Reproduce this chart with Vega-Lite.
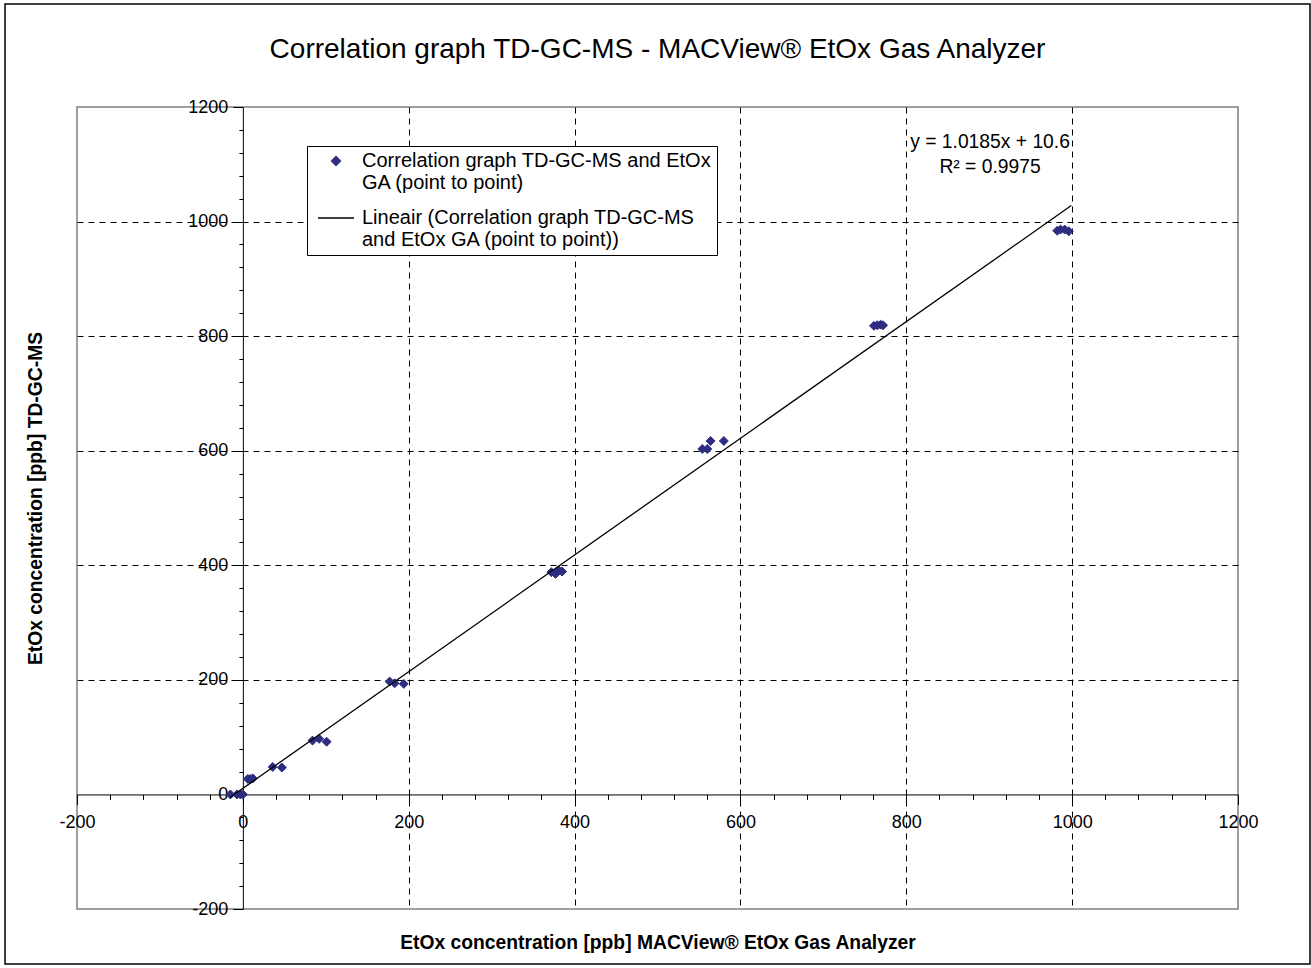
{
  "$schema": "https://vega.github.io/schema/vega-lite/v6.json",
  "width": 1161,
  "height": 802,
  "autosize": {"type": "none"},
  "padding": {"left": 77, "top": 107, "right": 73, "bottom": 59},
  "background": "white",
  "config": {
    "font": "Liberation Sans",
    "view": {"stroke": "#808080", "strokeWidth": 1.5},
    "axis": {"labelFont": "Liberation Sans", "titleFont": "Liberation Sans", "labelColor": "black", "titleColor": "black"}
  },
  "title": {
    "text": "Correlation graph TD-GC-MS - MACView® EtOx Gas Analyzer",
    "fontSize": 28,
    "fontWeight": "normal",
    "font": "Liberation Sans",
    "color": "black",
    "anchor": "middle",
    "frame": "group",
    "baseline": "alphabetic",
    "offset": -82.5
  },
  "datasets": {
    "points": [
      {"x": -15, "y": 0, "series": "Correlation graph TD-GC-MS and EtOx GA (point to point)"},
      {"x": -7, "y": 0, "series": "Correlation graph TD-GC-MS and EtOx GA (point to point)"},
      {"x": -3, "y": 0, "series": "Correlation graph TD-GC-MS and EtOx GA (point to point)"},
      {"x": 0, "y": 0, "series": "Correlation graph TD-GC-MS and EtOx GA (point to point)"},
      {"x": 6, "y": 27, "series": "Correlation graph TD-GC-MS and EtOx GA (point to point)"},
      {"x": 9, "y": 27, "series": "Correlation graph TD-GC-MS and EtOx GA (point to point)"},
      {"x": 12, "y": 28, "series": "Correlation graph TD-GC-MS and EtOx GA (point to point)"},
      {"x": 36, "y": 48, "series": "Correlation graph TD-GC-MS and EtOx GA (point to point)"},
      {"x": 47, "y": 47, "series": "Correlation graph TD-GC-MS and EtOx GA (point to point)"},
      {"x": 84, "y": 94, "series": "Correlation graph TD-GC-MS and EtOx GA (point to point)"},
      {"x": 92, "y": 97, "series": "Correlation graph TD-GC-MS and EtOx GA (point to point)"},
      {"x": 101, "y": 92, "series": "Correlation graph TD-GC-MS and EtOx GA (point to point)"},
      {"x": 177, "y": 197, "series": "Correlation graph TD-GC-MS and EtOx GA (point to point)"},
      {"x": 183, "y": 194, "series": "Correlation graph TD-GC-MS and EtOx GA (point to point)"},
      {"x": 194, "y": 193, "series": "Correlation graph TD-GC-MS and EtOx GA (point to point)"},
      {"x": 372, "y": 388, "series": "Correlation graph TD-GC-MS and EtOx GA (point to point)"},
      {"x": 377, "y": 385, "series": "Correlation graph TD-GC-MS and EtOx GA (point to point)"},
      {"x": 381, "y": 391, "series": "Correlation graph TD-GC-MS and EtOx GA (point to point)"},
      {"x": 385, "y": 389, "series": "Correlation graph TD-GC-MS and EtOx GA (point to point)"},
      {"x": 554, "y": 603, "series": "Correlation graph TD-GC-MS and EtOx GA (point to point)"},
      {"x": 560, "y": 603, "series": "Correlation graph TD-GC-MS and EtOx GA (point to point)"},
      {"x": 564, "y": 617, "series": "Correlation graph TD-GC-MS and EtOx GA (point to point)"},
      {"x": 580, "y": 617, "series": "Correlation graph TD-GC-MS and EtOx GA (point to point)"},
      {"x": 761, "y": 818, "series": "Correlation graph TD-GC-MS and EtOx GA (point to point)"},
      {"x": 765, "y": 819, "series": "Correlation graph TD-GC-MS and EtOx GA (point to point)"},
      {"x": 769, "y": 820, "series": "Correlation graph TD-GC-MS and EtOx GA (point to point)"},
      {"x": 772, "y": 819, "series": "Correlation graph TD-GC-MS and EtOx GA (point to point)"},
      {"x": 982, "y": 984, "series": "Correlation graph TD-GC-MS and EtOx GA (point to point)"},
      {"x": 986, "y": 986, "series": "Correlation graph TD-GC-MS and EtOx GA (point to point)"},
      {"x": 991, "y": 986, "series": "Correlation graph TD-GC-MS and EtOx GA (point to point)"},
      {"x": 996, "y": 983, "series": "Correlation graph TD-GC-MS and EtOx GA (point to point)"}
    ],
    "trend": [
      {"x": -16, "y": -5.7},
      {"x": 999, "y": 1028}
    ]
  },
  "layer": [
    {
      "data": {"values": [{"element": "chart border"}]},
      "mark": {"type": "rect", "fill": "transparent", "stroke": "black", "strokeWidth": 1.5},
      "encoding": {
        "x": {
          "datum": -286.8, "type": "quantitative",
          "scale": {"domain": [-200, 1200], "nice": false, "zero": false},
          "axis": {
            "orient": "bottom", "values": [200, 400, 600, 800, 1000],
            "grid": true, "gridDash": [6, 5], "gridColor": "black", "gridWidth": 1, "gridOpacity": 1,
            "ticks": false, "labels": false, "domain": false,
            "title": "EtOx concentration [ppb] MACView® EtOx Gas Analyzer",
            "titleFontSize": 19.3, "titleFontWeight": "bold", "titlePadding": 24.5, "titleColor": "black",
            "zindex": 0
          }
        },
        "x2": {"datum": 1286.8},
        "y": {
          "datum": 1379.8, "type": "quantitative",
          "scale": {"domain": [-200, 1200], "nice": false, "zero": false},
          "axis": {
            "orient": "left", "values": [200, 400, 600, 800, 1000],
            "grid": true, "gridDash": [6, 5], "gridColor": "black", "gridWidth": 1, "gridOpacity": 1,
            "ticks": false, "labels": false, "domain": false,
            "title": "EtOx concentration [ppb] TD-GC-MS",
            "titleFontSize": 19.3, "titleFontWeight": "bold", "titlePadding": 32, "titleColor": "black",
            "titleY": 391,
            "zindex": 0
          }
        },
        "y2": {"datum": -296}
      }
    },
    {
      "data": {"name": "points"},
      "mark": {"type": "point", "filled": true, "size": 80, "opacity": 1, "strokeWidth": 1},
      "encoding": {
        "x": {
          "field": "x", "type": "quantitative",
          "scale": {"domain": [-200, 1200], "nice": false, "zero": false},
          "axis": {
            "orient": "bottom", "offset": -114.57,
            "values": [-200, 0, 200, 400, 600, 800, 1000, 1200],
            "labelExpr": "'' + datum.value",
            "grid": false, "domain": true, "domainColor": "black", "domainWidth": 1,
            "ticks": true, "tickColor": "black", "tickSize": 10, "tickWidth": 1,
            "labelFontSize": 18, "labelPadding": 9.3, "labelFlush": false, "labelOverlap": false, "labelBound": false,
            "title": null, "zindex": 0
          }
        },
        "y": {
          "field": "y", "type": "quantitative",
          "scale": {"domain": [-200, 1200], "nice": false, "zero": false},
          "axis": {
            "orient": "left", "offset": -165.86,
            "values": [-200, 0, 200, 400, 600, 800, 1000, 1200],
            "labelExpr": "'' + datum.value",
            "grid": false, "domain": true, "domainColor": "black", "domainWidth": 1,
            "ticks": true, "tickColor": "black", "tickSize": 10, "tickWidth": 1,
            "labelFontSize": 18, "labelPadding": 5, "labelFlush": false, "labelOverlap": false, "labelBound": false,
            "title": null, "zindex": 0
          }
        },
        "color": {
          "field": "series", "type": "nominal",
          "scale": {
            "domain": ["Correlation graph TD-GC-MS and EtOx GA (point to point)", "Lineair (Correlation graph TD-GC-MS and EtOx GA (point to point))"],
            "range": ["#2d2d82", "black"]
          },
          "legend": {
            "orient": "none", "legendX": 230, "legendY": 39,
            "title": null,
            "padding": 5,
            "strokeColor": "black", "fillColor": "white",
            "symbolStrokeWidth": 1.3,
            "symbolOffset": 5, "labelOffset": 7,
            "labelFont": "Liberation Sans", "labelFontSize": 20, "labelColor": "black",
            "labelLimit": 700, "labelBaseline": "middle",
            "rowPadding": 6,
            "labelExpr": "indexof(datum.value, 'Lineair') === 0 ? ['Lineair (Correlation graph TD-GC-MS', 'and EtOx GA (point to point))'] : ['Correlation graph TD-GC-MS and EtOx', 'GA (point to point)']",
            "encode": {
              "labels": {
                "update": {
                  "lineHeight": {"value": 22}
                }
              }
            }
          }
        },
        "stroke": {
          "field": "series", "type": "nominal",
          "scale": {
            "domain": ["Correlation graph TD-GC-MS and EtOx GA (point to point)", "Lineair (Correlation graph TD-GC-MS and EtOx GA (point to point))"],
            "range": ["#2d2d82", "black"]
          }
        },
        "shape": {
          "field": "series", "type": "nominal",
          "scale": {
            "domain": ["Correlation graph TD-GC-MS and EtOx GA (point to point)", "Lineair (Correlation graph TD-GC-MS and EtOx GA (point to point))"],
            "range": ["diamond", "stroke"]
          }
        },
        "size": {
          "field": "series", "type": "nominal",
          "scale": {
            "domain": ["Correlation graph TD-GC-MS and EtOx GA (point to point)", "Lineair (Correlation graph TD-GC-MS and EtOx GA (point to point))"],
            "range": [80, 1296]
          }
        }
      }
    },
    {
      "data": {"name": "trend"},
      "mark": {"type": "line", "color": "black", "strokeWidth": 1.3},
      "encoding": {
        "x": {
          "field": "x", "type": "quantitative",
          "scale": {"domain": [-200, 1200], "nice": false, "zero": false},
          "axis": {
            "orient": "bottom", "offset": -114.57,
            "values": [-160, -120, -80, -40, 40, 80, 120, 160, 240, 280, 320, 360, 440, 480, 520, 560, 640, 680, 720, 760, 840, 880, 920, 960, 1040, 1080, 1120, 1160],
            "grid": false, "domain": false, "labels": false,
            "ticks": true, "tickColor": "black", "tickSize": 5, "tickWidth": 1,
            "title": null, "zindex": 0
          }
        },
        "y": {
          "field": "y", "type": "quantitative",
          "scale": {"domain": [-200, 1200], "nice": false, "zero": false},
          "axis": {
            "orient": "left", "offset": -165.86,
            "values": [-160, -120, -80, -40, 40, 80, 120, 160, 240, 280, 320, 360, 440, 480, 520, 560, 640, 680, 720, 760, 840, 880, 920, 960, 1040, 1080, 1120, 1160],
            "grid": false, "domain": false, "labels": false,
            "ticks": true, "tickColor": "black", "tickSize": 4, "tickWidth": 1,
            "title": null, "zindex": 0
          }
        }
      }
    },
    {
      "data": {"values": [{"label": "y = 1.0185x + 10.6"}]},
      "mark": {"type": "text", "align": "center", "baseline": "middle", "fontSize": 19.3, "font": "Liberation Sans", "color": "black"},
      "encoding": {
        "x": {"datum": 901, "type": "quantitative", "axis": null},
        "y": {"datum": 1139, "type": "quantitative", "axis": null},
        "text": {"field": "label"}
      }
    },
    {
      "data": {"values": [{"label": "R² = 0.9975"}]},
      "mark": {"type": "text", "align": "center", "baseline": "middle", "fontSize": 19.3, "font": "Liberation Sans", "color": "black"},
      "encoding": {
        "x": {"datum": 901, "type": "quantitative", "axis": null},
        "y": {"datum": 1095, "type": "quantitative", "axis": null},
        "text": {"field": "label"}
      }
    }
  ],
  "resolve": {"axis": {"x": "independent", "y": "independent"}}
}
